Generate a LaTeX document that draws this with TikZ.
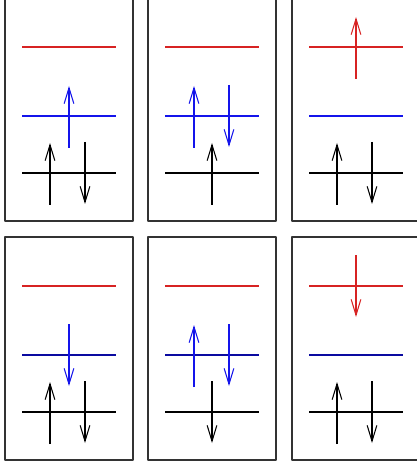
\documentclass[tikz,border=0pt]{standalone}
\usetikzlibrary{arrows.meta}
\definecolor{lvlred}{RGB}{215,35,35}
\definecolor{lvlblue}{RGB}{20,20,235}
\definecolor{lvlnavy}{RGB}{10,10,160}
% spin arrows: x, level, colour
\newcommand{\spinup}[3]{\draw[spin,#3] (#1,#2+32) -- (#1,#2-30);}
\newcommand{\spindn}[3]{\draw[spin,#3] (#1,#2-31) -- (#1,#2+31);}
\begin{document}
\begin{tikzpicture}[x=0.02cm, y=-0.02cm, line join=round,
		box/.style={draw=black!80, line width=0.6pt},
		level/.style={line width=0.6pt},
		spin/.style={line width=0.6pt, -{Straight Barb[length=9pt,width=5.5pt]}}]
		\useasboundingbox (0,0) rectangle (416,465);
		
		% 1. Khung va cac muc nang luong
		\foreach \L/\B/\M in {5/221/lvlblue, 148/221/lvlblue, 292/221/lvlblue,
			5/460/lvlnavy, 148/460/lvlnavy, 292/460/lvlnavy} {
			\draw[box] (\L,\B-223) rectangle (\L+128,\B);
			\draw[level, lvlred] (\L+17,\B-174) -- (\L+111,\B-174);
			\draw[level, \M]     (\L+17,\B-105) -- (\L+111,\B-105);
			\draw[level, black]  (\L+17,\B-48)  -- (\L+111,\B-48);
		}
		
		% 2. Spin - hang tren
		\spinup{50}{173}{black} \spindn{85}{173}{black} \spinup{69}{116}{lvlblue}
		\spinup{212}{173}{black} \spinup{194}{116}{lvlblue} \spindn{229}{116}{lvlblue}
		\spinup{337}{173}{black} \spindn{372}{173}{black} \spinup{356}{47}{lvlred}
		
		% 3. Spin - hang duoi
		\spinup{50}{412}{black} \spindn{85}{412}{black} \spindn{69}{355}{lvlblue}
		\spindn{212}{412}{black} \spinup{194}{355}{lvlblue} \spindn{229}{355}{lvlblue}
		\spinup{337}{412}{black} \spindn{372}{412}{black} \spindn{356}{286}{lvlred}
	\end{tikzpicture}
\end{document}
